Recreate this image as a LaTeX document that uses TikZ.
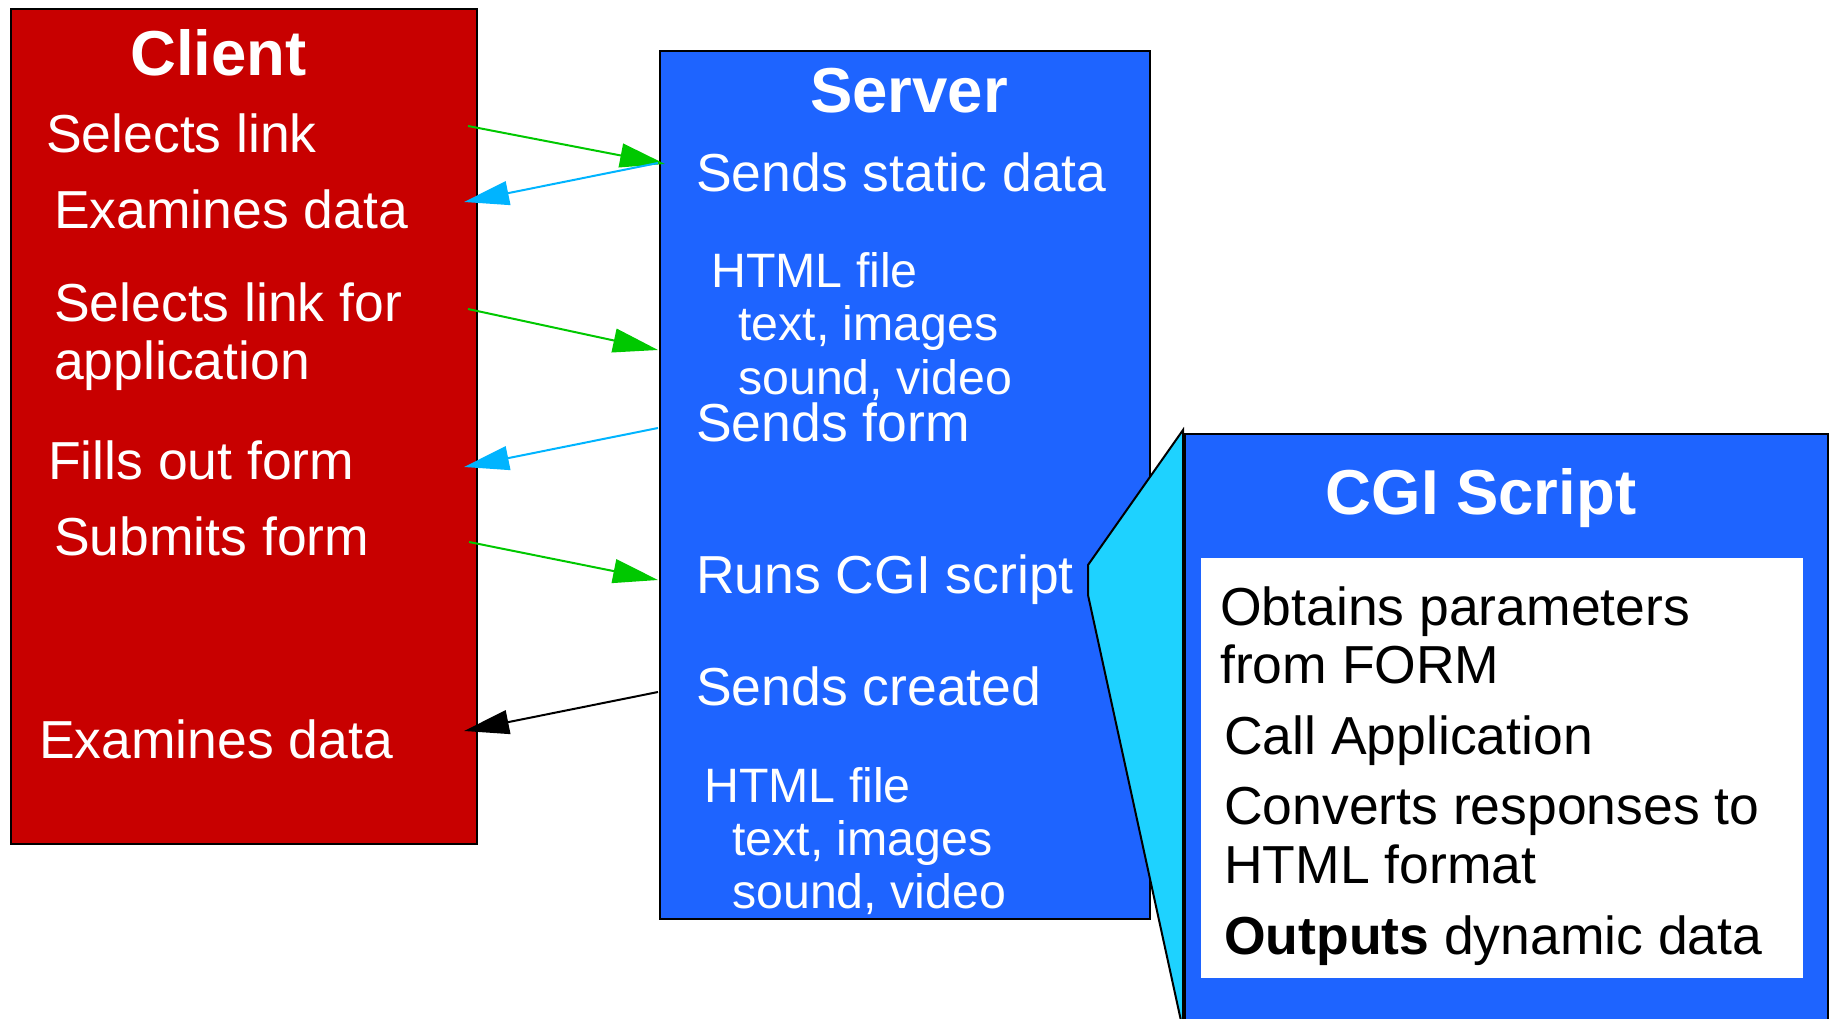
\documentclass[tikz,border=0pt]{standalone}
\usepackage{fontspec}
\setmainfont{Liberation Sans}
\usetikzlibrary{arrows.meta}
\definecolor{clientred}{RGB}{200,0,0}
\definecolor{serverblue}{RGB}{30,100,255}
\definecolor{cgicyan}{RGB}{30,210,255}
\definecolor{arrgreen}{RGB}{0,200,0}
\definecolor{arrblue}{RGB}{0,180,255}
\tikzset{
  panel/.style={draw=black, line width=2pt, rectangle, inner sep=0pt, anchor=north west},
  body/.style={text=white, inner sep=0pt, anchor=base west, font=\fontsize{53.5}{58}\selectfont},
  sub/.style={text=white, inner sep=0pt, anchor=base west, font=\fontsize{48.3}{53}\selectfont},
  title/.style={text=white, inner sep=0pt, font=\fontsize{63.5}{70}\selectfont\bfseries},
  dark/.style={body, text=black},
  arr/.style={line width=2pt, -{Triangle[length=45pt,width=24pt]}}
}
\begin{document}
\begin{tikzpicture}[x=1pt,y=-1pt]
\useasboundingbox (0,0) rectangle (1831,1019);
% panels
\node[panel, fill=clientred, minimum width=466pt, minimum height=835pt] (client) at (10,8) {};
\node[panel, fill=serverblue, minimum width=490pt, minimum height=868pt] (server) at (659,50) {};
\draw[line width=2pt, fill=cgicyan, line join=miter] (1183,430) -- (1088,565) -- (1088,595) -- (1183,1030) -- cycle;
\node[panel, fill=serverblue, minimum width=643pt, minimum height=620pt] (cgi) at (1184,433) {};
\node[rectangle, fill=white, inner sep=0pt, anchor=north west, minimum width=602pt, minimum height=420pt] (cgiwhite) at (1201,558) {};
% client texts
\node[title, anchor=base west] (ctitle) at (130,76) {Client};
\node[body] (c1) at (46,153) {Selects link};
\node[body] (c2) at (54,229) {Examines data};
\node[body] (c3) at (54,321) {Selects link for};
\node[body] (c4) at (54,379) {application};
\node[body] (c5) at (48,479) {Fills out form};
\node[body] (c6) at (54,555) {Submits form};
\node[body] (c7) at (39,758) {Examines data};
% server texts
\node[title, anchor=base] (stitle) at (909,113) {Server};
\node[body] (s1) at (696,192) {Sends static data};
\node[sub] (s2) at (711,287) {HTML file};
\node[sub] (s3) at (738,340) {text, images};
\node[sub] (s4) at (738,394) {sound, video};
\node[body] (s5) at (696,441) {Sends form};
\node[body] (s6) at (696,593) {Runs CGI script};
\node[body] (s7) at (696,705) {Sends created};
\node[sub] (s8) at (704,802) {HTML file};
\node[sub] (s9) at (732,855) {text, images};
\node[sub] (s10) at (732,908) {sound, video};
% cgi texts
\node[title, anchor=base] (gtitle) at (1481,514) {CGI Script};
\node[dark] (g1) at (1220,625) {Obtains parameters};
\node[dark] (g2) at (1220,683) {from FORM};
\node[dark] (g3) at (1224,754) {Call Application};
\node[dark] (g4) at (1224,824) {Converts responses to};
\node[dark] (g5) at (1224,883) {HTML format};
\node[dark] (g6) at (1224,954) {\textbf{Outputs} dynamic data};
% arrow end points
\coordinate (a1s) at (468,126); \coordinate (a1e) at (665,164);
\coordinate (a2s) at (658,163); \coordinate (a2e) at (464,202);
\coordinate (a3s) at (468,309); \coordinate (a3e) at (658,350);
\coordinate (a4s) at (658,428); \coordinate (a4e) at (464,467);
\coordinate (a5s) at (469,542); \coordinate (a5e) at (658,580);
\coordinate (a6s) at (658,692); \coordinate (a6e) at (464,731);
\draw[arr, arrgreen] (a1s) -- (a1e);
\draw[arr, arrblue] (a2s) -- (a2e);
\draw[arr, arrgreen] (a3s) -- (a3e);
\draw[arr, arrblue] (a4s) -- (a4e);
\draw[arr, arrgreen] (a5s) -- (a5e);
\draw[arr, black] (a6s) -- (a6e);
\end{tikzpicture}
\end{document}
